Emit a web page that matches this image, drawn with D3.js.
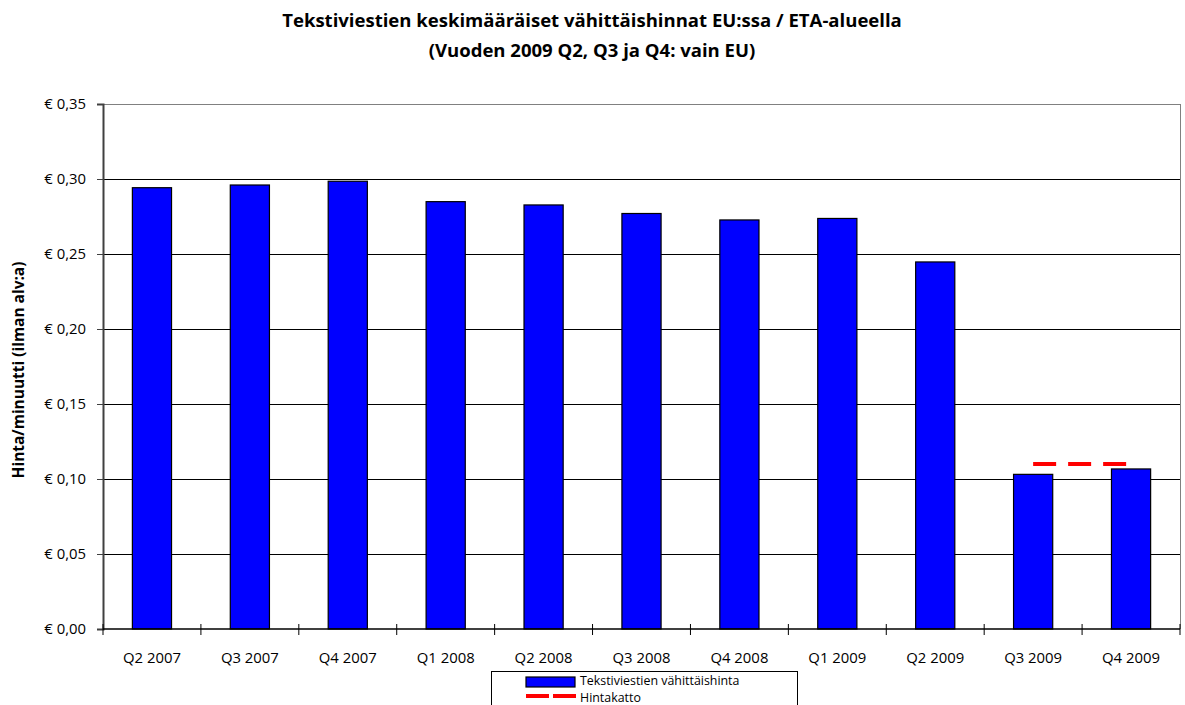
<!DOCTYPE html>
<html><head><meta charset="utf-8">
<script src="https://cdn.jsdelivr.net/npm/d3@7"></script>
<style>body{margin:0;background:#fff;} text{font-family:"Open Sans",sans-serif;}</style>
</head><body>
<svg id="c" width="1185" height="705"></svg>
<script>
const categories = ["Q2 2007","Q3 2007","Q4 2007","Q1 2008","Q2 2008","Q3 2008","Q4 2008","Q1 2009","Q2 2009","Q3 2009","Q4 2009"];
const prices = [0.2942,0.2960,0.2985,0.2849,0.2827,0.2770,0.2727,0.2737,0.2447,0.1031,0.1067];
const capCategories = ["Q3 2009","Q4 2009"];
const capValues = [0.11,0.11];
const yTicks = [0,0.05,0.10,0.15,0.20,0.25,0.30,0.35];
const titleLines = ["Tekstiviestien keskimääräiset vähittäishinnat EU:ssa / ETA-alueella","(Vuoden 2009 Q2, Q3 ja Q4: vain EU)"];
const yTitle = "Hinta/minuutti (ilman alv:a)";
const legendLabels = ["Tekstiviestien vähittäishinta","Hintakatto"];

const svg = d3.select("#c");
const L=103, R=1180, T=104, B=629;
const x = d3.scaleBand().domain(categories).range([L,R]).paddingInner(0.6).paddingOuter(0.3);
const xc = d3.scaleBand().domain(categories).range([L,R]);
const y = d3.scaleLinear().domain([0,0.35]).range([B,T]);
const fmt = v => "€ " + d3.format(".2f")(v).replace(".",",");
const FF = "'Open Sans',sans-serif";

function fitSize(text, target, weight){
  const t = svg.append("text").attr("font-size",20).attr("font-weight",weight||"normal").attr("font-family",FF).text(text);
  const w = t.node().getComputedTextLength(); t.remove();
  return 20*target/w;
}
const titleSize = fitSize(titleLines[0], 620, "bold");
const tickSize = fitSize("Q2 2007", 58);
const yTitleSize = fitSize(yTitle, 217, "bold");
const legSize = Math.min(12.4, fitSize(legendLabels[0], 182));

// title
svg.append("g").selectAll("text").data(titleLines).join("text")
  .attr("x",592).attr("y",(d,i)=>27+i*30).attr("text-anchor","middle")
  .attr("font-size",titleSize).attr("font-weight","bold").text(d=>d);

// gridlines
svg.append("g").selectAll("line").data(yTicks.filter(v=>v>0)).join("line")
  .attr("x1",L).attr("x2",R).attr("y1",d=>y(d)).attr("y2",d=>y(d))
  .attr("stroke",d=>d===0.35?"#808080":"#000").attr("stroke-width",1).attr("shape-rendering","crispEdges");
svg.append("line").attr("x1",R).attr("x2",R).attr("y1",T).attr("y2",B).attr("stroke","#808080").attr("shape-rendering","crispEdges");

// y axis
const ya = d3.axisLeft(y).tickValues(yTicks).tickFormat(fmt).tickSize(6).tickPadding(11);
const gy = svg.append("g").attr("transform",`translate(${L},0)`).call(ya);
gy.select(".domain").attr("stroke","#404040").attr("stroke-width",2);
gy.selectAll(".tick line").attr("stroke","#404040");
gy.selectAll("text").attr("font-size",tickSize).attr("fill","#000").attr("font-family",FF);

// bars
svg.append("g").selectAll("rect").data(prices).join("rect")
  .attr("x",(d,i)=>x(categories[i])).attr("width",x.bandwidth())
  .attr("y",d=>y(d)).attr("height",d=>B-y(d))
  .attr("fill","#0000ff").attr("stroke","#000").attr("stroke-width",1.2);

// x axis
svg.append("line").attr("x1",L).attr("x2",R).attr("y1",B).attr("y2",B).attr("stroke","#000").attr("stroke-width",1.5);
svg.append("g").selectAll("line").data(categories.concat(["end"])).join("line")
  .attr("x1",(d,i)=>L+i*xc.bandwidth()).attr("x2",(d,i)=>L+i*xc.bandwidth())
  .attr("y1",B-5).attr("y2",B+6).attr("stroke","#000").attr("stroke-width",1);
svg.append("g").selectAll("text").data(categories).join("text")
  .attr("x",d=>xc(d)+xc.bandwidth()/2).attr("y",663).attr("text-anchor","middle")
  .attr("font-size",tickSize).text(d=>d);

// cap line
const line = d3.line().x(d=>xc(d[0])+xc.bandwidth()/2).y(d=>y(d[1]));
svg.append("path").datum(capCategories.map((c,i)=>[c,capValues[i]]))
  .attr("d",line).attr("stroke","#ff0000").attr("stroke-width",4).attr("stroke-dasharray","23,12").attr("fill","none");

// y title
svg.append("text").attr("transform","translate(24,370) rotate(-90)").attr("text-anchor","middle")
  .attr("font-size",yTitleSize).attr("font-weight","bold").text(yTitle);

// legend
const lg = svg.append("g");
lg.append("rect").attr("x",491.5).attr("y",671.5).attr("width",306).attr("height",40).attr("fill","#fff").attr("stroke","#000");
lg.append("rect").attr("x",526).attr("y",677).attr("width",49).attr("height",10).attr("fill","#0000ff").attr("stroke","#000").attr("stroke-width",1.2);
lg.append("line").attr("x1",526).attr("x2",576).attr("y1",696).attr("y2",696).attr("stroke","#ff0000").attr("stroke-width",4).attr("stroke-dasharray","23,4");
lg.selectAll("text.l").data(legendLabels).join("text").attr("class","l")
  .attr("x",580).attr("y",(d,i)=>685+i*17).attr("font-size",legSize).text(d=>d);
</script>
</body></html>
